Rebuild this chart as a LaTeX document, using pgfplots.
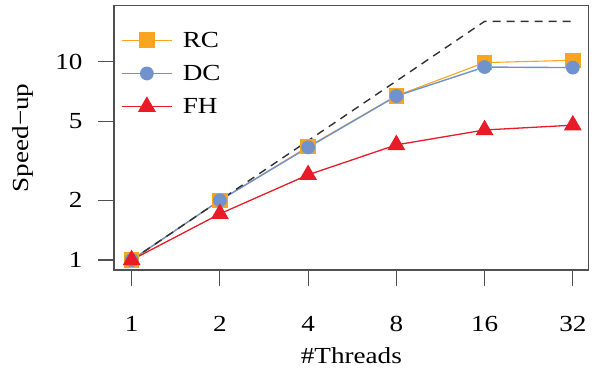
\documentclass[border=0pt]{standalone}
\usepackage{fontspec}
\setmainfont[FakeStretch=1.18]{Liberation Serif}
\usepackage{pgfplots}
\pgfplotsset{compat=1.18}
\definecolor{rcC}{RGB}{250,165,30}
\definecolor{dcC}{RGB}{112,146,205}
\definecolor{fhC}{RGB}{232,28,40}
\definecolor{axC}{RGB}{80,80,80}
\definecolor{idC}{RGB}{50,50,50}
\begin{document}
\begin{tikzpicture}
\begin{axis}[
  scale only axis, width=474.7bp, height=264.3bp,
  xmin=-0.2, xmax=5.18,
  ymode=log, ymin=0.89, ymax=19.2,
  xtick={0,1,2,3,4,5}, xticklabels={1,2,4,8,16,32},
  ytick={1,2,5,10}, yticklabels={1,2,5,10},
  yminorticks=false, xminorticks=false,
  tick align=outside, major tick length=16bp,
  xtick pos=bottom, ytick pos=left,
  axis line style={axC, line width=1.1bp},
  every tick/.style={axC, line width=1.1bp},
  font=\fontsize{23bp}{27bp}\selectfont,
  /pgf/number format/assume math mode=true,
  yticklabel style={xshift=-12bp},
  xticklabel style={yshift=-27bp},
  xlabel={\#Threads}, ylabel={Speed−up},
  xlabel style={at={(axis description cs:0.5,0)}, anchor=base, yshift=-93bp},
  ylabel style={at={(axis description cs:0,0.5)}, anchor=base, yshift=85bp},
  legend style={at={(rel axis cs:0,1)}, anchor=north west, draw=none, fill=none,
    xshift=4bp, yshift=-21bp, row sep=10.5bp, font=\fontsize{23bp}{27bp}\selectfont,
    nodes={inner sep=3bp}},
  legend cell align=left,
  legend image code/.code={
    \path[draw=none,fill=none] (0bp,-11bp) rectangle (58bp,11bp);
    \draw[mark repeat=2,mark phase=2] plot coordinates {(0bp,0bp) (25bp,0bp) (50bp,0bp)};},
]
\addplot[color=rcC, line width=1.1bp, mark=square*, mark size=7.2bp, mark options={solid}]
  coordinates {(0,1) (1,2.0) (2,3.73) (3,6.74) (4,9.91) (5,10.18)};
\addlegendentry{RC}
\addplot[color=dcC, line width=1.4bp, mark=*, mark size=6.2bp, mark options={solid}]
  coordinates {(0,1) (1,2.0) (2,3.70) (3,6.72) (4,9.41) (5,9.35)};
\addlegendentry{DC}
\addplot[color=fhC, line width=1.3bp, mark=triangle*, mark size=9bp, mark options={solid}]
  coordinates {(0,1) (1,1.71) (2,2.69) (3,3.81) (4,4.53) (5,4.79)};
\addlegendentry{FH}
\addplot[color=idC, line width=1.4bp, dash pattern=on 8bp off 6bp, forget plot]
  coordinates {(0,1) (1,2) (2,4) (3,8) (4,16) (5,16)};
\coordinate (bl) at (rel axis cs:0,0);
\coordinate (tr) at (rel axis cs:1,1);
\end{axis}
\path ([shift={(-114bp,-99bp)}]bl) rectangle ([shift={(6.3bp,5.7bp)}]tr);
\end{tikzpicture}
\end{document}
